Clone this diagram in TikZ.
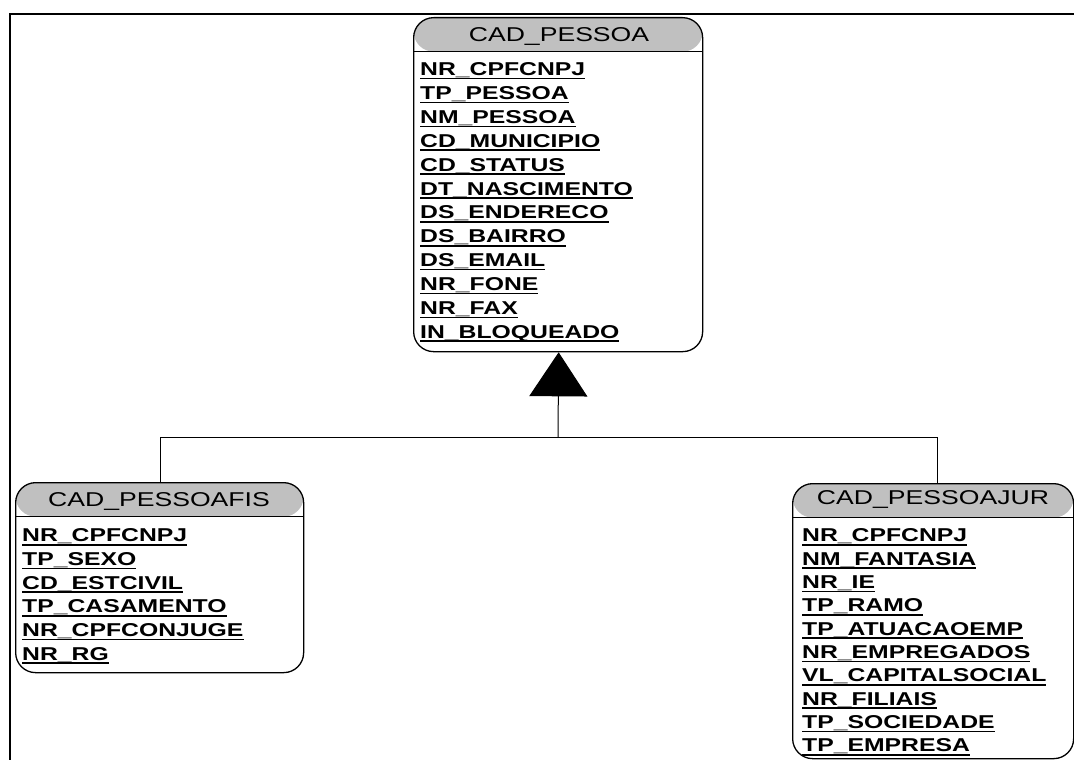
\documentclass[tikz,border=0pt]{standalone}
\usepackage{fontspec}
\setmainfont{Liberation Sans}[FakeStretch=1.33]
\usetikzlibrary{arrows.meta}
\definecolor{headgray}{RGB}{192,192,192}
\newsavebox\ulbox
\newcommand{\ulx}[1]{\sbox\ulbox{#1}\rlap{\rule[-3.8pt]{\wd\ulbox}{1.7pt}}\usebox\ulbox}
\tikzset{
  entity/.style={draw, line width=1.3pt, rounded corners=20pt, anchor=north west, inner sep=0pt,
    path picture={
      \fill[headgray] (path picture bounding box.north west) rectangle ([yshift=-34pt]path picture bounding box.north east);
      \draw[line width=1pt] ([yshift=-34pt]path picture bounding box.north west) -- ([yshift=-34pt]path picture bounding box.north east);
    }},
  headtext/.style={anchor=base, inner sep=0pt, font=\fontsize{20}{24}\selectfont},
  attrtext/.style={anchor=base west, inner sep=0pt, font=\fontsize{18.6}{22}\selectfont\bfseries},
  conn/.style={draw, line width=1pt},
  frameline/.style={draw, line width=2.4pt}
}
\begin{document}
\begin{tikzpicture}[x=1pt,y=-1pt]
\useasboundingbox (0,0) rectangle (1074,760);
% frame
\coordinate (ftr) at (1074,14);
\coordinate (ftl) at (10,14);
\coordinate (fbl) at (10,760);
\draw[frameline] (ftr) -- (ftl) -- (fbl);

% entities
\node[entity, minimum width=289pt, minimum height=334pt] (pessoa) at (413,17) {};
\node[headtext] (pessoah) at (559,41.5) {CAD\_PESSOA};
\foreach \t [count=\i from 0] in {NR\_CPFCNPJ,TP\_PESSOA,NM\_PESSOA,CD\_MUNICIPIO,CD\_STATUS,DT\_NASCIMENTO,DS\_ENDERECO,DS\_BAIRRO,DS\_EMAIL,NR\_FONE,NR\_FAX,IN\_BLOQUEADO}
  \node[attrtext] (pa\i) at (420,{75.7+23.87*\i}) {\ulx{\t}};

\node[entity, minimum width=288pt, minimum height=190pt] (fis) at (15,482) {};
\node[headtext] (fish) at (159,506) {CAD\_PESSOAFIS};
\foreach \t [count=\i from 0] in {NR\_CPFCNPJ,TP\_SEXO,CD\_ESTCIVIL,TP\_CASAMENTO,NR\_CPFCONJUGE,NR\_RG}
  \node[attrtext] (fa\i) at (22,{541.7+23.7*\i}) {\ulx{\t}};

\node[entity, minimum width=281pt, minimum height=275pt] (jur) at (792,483) {};
\node[headtext] (jurh) at (933,504) {CAD\_PESSOAJUR};
\foreach \t [count=\i from 0] in {NR\_CPFCNPJ,NM\_FANTASIA,NR\_IE,TP\_RAMO,TP\_ATUACAOEMP,NR\_EMPREGADOS,VL\_CAPITALSOCIAL,NR\_FILIAIS,TP\_SOCIEDADE,TP\_EMPRESA}
  \node[attrtext] (ja\i) at (802,{541.7+23.35*\i}) {\ulx{\t}};

% generalization
\coordinate (junc) at (558,437);
\draw[conn] ([xshift=1pt]fis.north) |- (junc);
\draw[conn] ([xshift=4pt]jur.north) |- (junc);
\draw[conn, -{Triangle[length=44pt,width=58pt]}] (junc) -- ([xshift=0.5pt]pessoa.south);
\end{tikzpicture}
\end{document}
